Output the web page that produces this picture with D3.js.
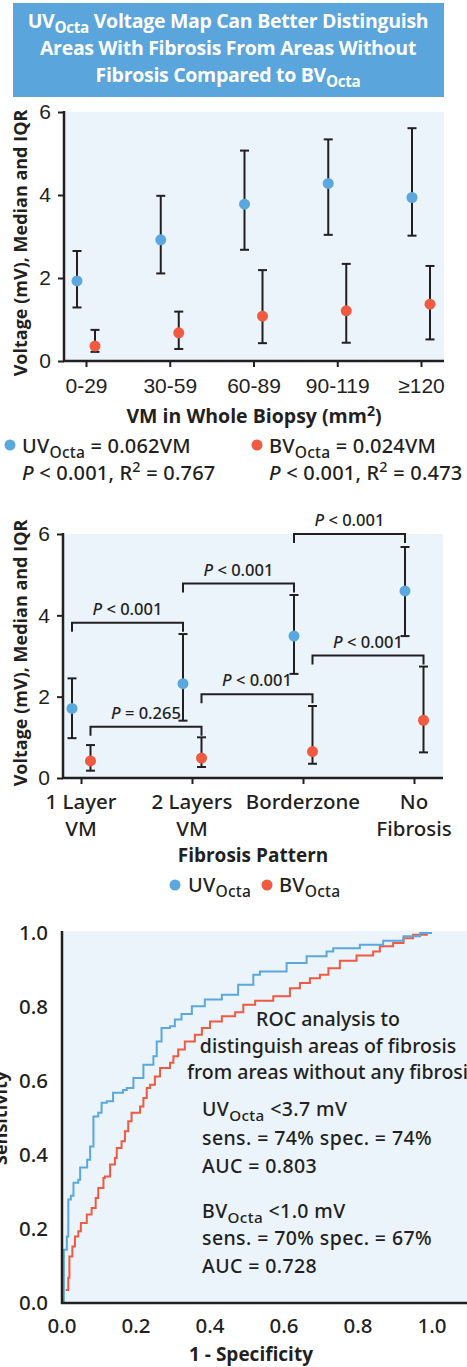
<!DOCTYPE html>
<html>
<head>
<meta charset="utf-8">
<script src="https://cdn.jsdelivr.net/npm/d3@7"></script>
<style>
  body { margin: 0; background: #fff; }
  svg { display: block; font-family: "Noto Sans", "Open Sans", sans-serif; font-weight: 500; }
  .bold { font-family: "Open Sans", sans-serif; font-weight: 700; }
</style>
</head>
<body>
<svg width="467" height="1367"></svg>
<script>
// panel A: voltage by VM area
const vmCats = ["0-29", "30-59", "60-89", "90-119", "≥120"];
const uvMed = [1.93, 2.92, 3.78, 4.28, 3.94];
const uvQ1 = [1.29, 2.11, 2.68, 3.04, 3.02];
const uvQ3 = [2.65, 3.98, 5.07, 5.34, 5.61];
const bvMed = [0.36, 0.68, 1.08, 1.21, 1.37];
const bvQ1 = [0.22, 0.29, 0.43, 0.44, 0.52];
const bvQ3 = [0.75, 1.19, 2.19, 2.34, 2.29];

// panel B: voltage by fibrosis pattern
const patCats = ["1 Layer|VM", "2 Layers|VM", "Borderzone", "No|Fibrosis"];
const uvPatMed = [1.71, 2.32, 3.49, 4.60];
const uvPatQ1 = [0.98, 1.41, 2.56, 3.49];
const uvPatQ3 = [2.45, 3.54, 4.50, 5.68];
const bvPatMed = [0.42, 0.49, 0.65, 1.42];
const bvPatQ1 = [0.18, 0.27, 0.35, 0.63];
const bvPatQ3 = [0.81, 1.00, 1.77, 2.74];
const brackets = [
  {series: "uv", from: 0, to: 1, level: 3.82, p: " < 0.001"},
  {series: "uv", from: 1, to: 2, level: 4.78, p: " < 0.001"},
  {series: "uv", from: 2, to: 3, level: 6.00, p: " < 0.001"},
  {series: "bv", from: 0, to: 1, level: 1.26, p: " = 0.265"},
  {series: "bv", from: 1, to: 2, level: 2.06, p: " < 0.001"},
  {series: "bv", from: 2, to: 3, level: 3.01, p: " < 0.001"}
];

// panel C: ROC curves (1 - specificity, sensitivity)
const rocUV = [[0.005,0],[0.005,0.144],[0.013,0.18],[0.017,0.28],[0.024,0.29],[0.031,0.325],[0.044,0.333],
  [0.049,0.366],[0.068,0.387],[0.076,0.423],[0.085,0.504],[0.098,0.514],[0.107,0.541],[0.121,0.545],
  [0.138,0.568],[0.165,0.576],[0.175,0.581],[0.193,0.608],[0.220,0.644],[0.247,0.667],[0.256,0.707],
  [0.269,0.743],[0.292,0.748],[0.305,0.766],[0.323,0.781],[0.351,0.802],[0.386,0.820],[0.432,0.833],
  [0.476,0.860],[0.517,0.887],[0.535,0.896],[0.607,0.919],[0.661,0.937],[0.715,0.950],[0.733,0.959],
  [0.805,0.968],[0.868,0.979],[0.923,0.991],[0.968,1.0],[1.0,1.0]];
const rocBV = [[0.010,0.035],[0.017,0.068],[0.020,0.126],[0.028,0.153],[0.035,0.18],[0.044,0.194],
  [0.051,0.216],[0.067,0.239],[0.080,0.257],[0.091,0.284],[0.098,0.311],[0.112,0.338],[0.116,0.342],
  [0.130,0.374],[0.143,0.392],[0.148,0.419],[0.161,0.437],[0.170,0.464],[0.179,0.491],[0.188,0.514],
  [0.211,0.531],[0.220,0.554],[0.229,0.581],[0.238,0.590],[0.251,0.612],[0.265,0.635],[0.292,0.649],
  [0.301,0.667],[0.314,0.685],[0.332,0.707],[0.359,0.725],[0.378,0.743],[0.400,0.761],[0.432,0.775],
  [0.468,0.786],[0.490,0.806],[0.522,0.817],[0.571,0.829],[0.616,0.851],[0.643,0.865],[0.670,0.878],
  [0.697,0.887],[0.720,0.905],[0.751,0.925],[0.796,0.939],[0.841,0.950],[0.859,0.964],[0.895,0.973],
  [0.923,0.986],[0.949,0.995],[0.986,1.0],[1.0,1.0]];
const rocTicks = [0, 0.2, 0.4, 0.6, 0.8, 1.0];

const BLUE = "#5aa8de", RED = "#f05a40", INK = "#231f20", BG = "#ebf3fb";

const svg = d3.select("svg");

// text with sub/superscripts: parts are [string, kind] where kind is "sub", "sup", "i" or undefined
function rich(g, x, y, parts, size, anchor) {
  const t = g.append("text")
      .attr("x", x).attr("y", y)
      .attr("font-size", size)
      .attr("text-anchor", anchor || "start")
      .attr("fill", INK);
  let shift = 0;
  parts.forEach(p => {
    const [s, kind] = Array.isArray(p) ? p : [p];
    const span = t.append("tspan").text(s);
    let want = 0;
    if (kind === "sub") { want = size * 0.27; span.attr("font-size", size * 0.78); }
    if (kind === "sup") { want = -size * 0.38; span.attr("font-size", size * 0.72); }
    if (kind === "i") span.attr("font-style", "italic");
    if (want !== shift) { span.attr("dy", want - shift); shift = want; }
  });
  return t;
}

// title box
svg.append("rect")
    .attr("x", 13).attr("y", 3).attr("width", 431).attr("height", 94)
    .attr("fill", "#5aa5dc");
const title = svg.append("g").attr("class", "bold").attr("letter-spacing", -0.3);
[
  [["UV"], ["Octa", "sub"], " Voltage Map Can Better Distinguish"],
  ["Areas With Fibrosis From Areas Without"],
  ["Fibrosis Compared to BV", ["Octa", "sub"]]
].forEach((line, i) => {
  rich(title, 228, 28 + i * 27, line, 19.5, "middle").attr("fill", "#fff");
});

function yAxisLeft(g, y, x0) {
  const ax = g.append("g")
      .attr("transform", `translate(${x0},0)`)
      .call(d3.axisLeft(y).tickValues([0, 2, 4, 6]).tickFormat(d3.format("d"))
          .tickSize(6).tickPadding(7).tickSizeOuter(0));
  ax.select(".domain").remove();
  ax.selectAll("line").attr("stroke", INK).attr("stroke-width", 2);
  ax.selectAll("text").attr("font-size", 21).attr("fill", INK)
      .attr("font-family", null);
}

function errorDots(g, x, y, med, q1, q3, dx, color) {
  const grp = g.append("g");
  med.forEach((m, i) => {
    const cx = x(i) + dx;
    grp.append("line")
        .attr("x1", cx).attr("x2", cx)
        .attr("y1", y(q1[i])).attr("y2", y(q3[i]))
        .attr("stroke", INK).attr("stroke-width", 2);
    [q1[i], q3[i]].forEach(v => {
      grp.append("line")
          .attr("x1", cx - 4.5).attr("x2", cx + 4.5)
          .attr("y1", y(v)).attr("y2", y(v))
          .attr("stroke", INK).attr("stroke-width", 2);
    });
  });
  grp.selectAll("circle")
      .data(med)
      .enter().append("circle")
      .attr("cx", (d, i) => x(i) + dx)
      .attr("cy", d => y(d))
      .attr("r", 5.5)
      .attr("fill", color);
}

function yTitle(g, cx, cy) {
  g.append("text")
      .attr("class", "bold")
      .attr("transform", `translate(${cx},${cy}) rotate(-90)`)
      .attr("text-anchor", "middle")
      .attr("font-size", 18).attr("fill", INK)
      .text("Voltage (mV), Median and IQR");
}

/* panel A */
const gA = svg.append("g");
const xA = d3.scalePoint().domain(d3.range(vmCats.length)).range([86, 421]);
const yA = d3.scaleLinear().domain([0, 6]).range([361, 112]);

gA.append("rect").attr("x", 64).attr("y", 112).attr("width", 380).attr("height", 249).attr("fill", BG);
yAxisLeft(gA, yA, 64);
const xAxA = gA.append("g")
    .attr("transform", "translate(0,361)")
    .call(d3.axisBottom(xA).tickSize(6).tickSizeOuter(0).tickFormat(i => vmCats[i]));
xAxA.select(".domain").remove();
xAxA.selectAll("line").attr("stroke", INK).attr("stroke-width", 2);
xAxA.selectAll("text").attr("font-size", 21).attr("fill", INK).attr("y", 32).attr("dy", 0)
    .attr("font-family", null);
gA.append("path").attr("d", "M64,111V361H444").attr("fill", "none").attr("stroke", INK).attr("stroke-width", 2.5);

errorDots(gA, xA, yA, uvMed, uvQ1, uvQ3, -9, BLUE);
errorDots(gA, xA, yA, bvMed, bvQ1, bvQ3, 9, RED);

yTitle(gA, 27, 243);
rich(gA, 254, 423, ["VM in Whole Biopsy (mm", ["2", "sup"], [")"]], 19.5, "middle").attr("class", "bold");

const legSize = 20, legSp = 0.2;
gA.append("circle").attr("cx", 10).attr("cy", 445).attr("r", 5.5).attr("fill", BLUE);
rich(gA, 22, 453, ["UV", ["Octa", "sub"], [" = 0.062VM"]], legSize).attr("letter-spacing", legSp);
rich(gA, 22, 480, [["P", "i"], " < 0.001, R", ["2", "sup"], [" = 0.767"]], legSize).attr("letter-spacing", legSp);
gA.append("circle").attr("cx", 257).attr("cy", 445).attr("r", 5.5).attr("fill", RED);
rich(gA, 269, 453, ["BV", ["Octa", "sub"], [" = 0.024VM"]], legSize).attr("letter-spacing", legSp);
rich(gA, 269, 480, [["P", "i"], " < 0.001, R", ["2", "sup"], [" = 0.473"]], legSize).attr("letter-spacing", legSp);

/* panel B */
const gB = svg.append("g");
const xB = d3.scalePoint().domain(d3.range(patCats.length)).range([81, 414]);
const yB = d3.scaleLinear().domain([0, 6]).range([778, 534]);

gB.append("rect").attr("x", 63).attr("y", 534).attr("width", 380).attr("height", 244).attr("fill", BG);
yAxisLeft(gB, yB, 63);
const xAxB = gB.append("g")
    .attr("transform", "translate(0,778)")
    .call(d3.axisBottom(xB).tickSize(6).tickSizeOuter(0).tickFormat(""));
xAxB.select(".domain").remove();
xAxB.selectAll("line").attr("stroke", INK).attr("stroke-width", 2);
patCats.forEach((c, i) => {
  c.split("|").forEach((s, j) => {
    gB.append("text")
        .attr("x", xB(i)).attr("y", 809 + j * 27)
        .attr("text-anchor", "middle")
        .attr("font-size", 20.5).attr("fill", INK)
        .text(s);
  });
});
gB.append("path").attr("d", "M63,533V778H443").attr("fill", "none").attr("stroke", INK).attr("stroke-width", 2.5);

errorDots(gB, xB, yB, uvPatMed, uvPatQ1, uvPatQ3, -9, BLUE);
errorDots(gB, xB, yB, bvPatMed, bvPatQ1, bvPatQ3, 9.5, RED);

brackets.forEach(b => {
  const dx = b.series === "uv" ? -9 : 9.5;
  const x1 = xB(b.from) + dx, x2 = xB(b.to) + dx, yy = yB(b.level);
  gB.append("path")
      .attr("d", `M${x1},${yy + 9}V${yy}H${x2}V${yy + 9}`)
      .attr("fill", "none").attr("stroke", INK).attr("stroke-width", 2);
  rich(gB, (x1 + x2) / 2, yy - 8, [["P", "i"], b.p], 16.5, "middle");
});

yTitle(gB, 27, 653);
gB.append("text")
    .attr("class", "bold")
    .attr("x", 253).attr("y", 862)
    .attr("text-anchor", "middle")
    .attr("font-size", 19).attr("fill", INK)
    .text("Fibrosis Pattern");
gB.append("circle").attr("cx", 175).attr("cy", 885).attr("r", 5.5).attr("fill", BLUE);
rich(gB, 188, 892, ["UV", ["Octa", "sub"]], legSize).attr("letter-spacing", legSp);
gB.append("circle").attr("cx", 267).attr("cy", 885).attr("r", 5.5).attr("fill", RED);
rich(gB, 279, 892, ["BV", ["Octa", "sub"]], legSize).attr("letter-spacing", legSp);

/* panel C */
const gC = svg.append("g");
const xC = d3.scaleLinear().domain([0, 1]).range([62, 432]);
const yC = d3.scaleLinear().domain([0, 1]).range([1303, 933]);

gC.append("rect").attr("x", 62).attr("y", 931).attr("width", 405).attr("height", 372).attr("fill", BG);

const rocLine = d3.line()
    .x(d => xC(d[0]))
    .y(d => yC(d[1]))
    .curve(d3.curveStepAfter);
gC.append("path").datum(rocBV).attr("d", rocLine)
    .attr("fill", "none").attr("stroke", RED).attr("stroke-width", 2);
gC.append("path").datum(rocUV).attr("d", rocLine)
    .attr("fill", "none").attr("stroke", BLUE).attr("stroke-width", 2);

gC.append("path").attr("d", "M62,931V1303H467").attr("fill", "none").attr("stroke", INK).attr("stroke-width", 2.5);

gC.selectAll(".ytick")
    .data(rocTicks)
    .enter().append("text")
    .attr("x", 48).attr("y", d => yC(d)).attr("dy", "0.36em")
    .attr("text-anchor", "end")
    .attr("font-size", 20.5).attr("fill", INK)
    .text(d => d.toFixed(1));
gC.selectAll(".xtick")
    .data(rocTicks)
    .enter().append("text")
    .attr("x", d => xC(d)).attr("y", 1333)
    .attr("text-anchor", "middle")
    .attr("font-size", 20.5).attr("fill", INK)
    .text(d => d.toFixed(1));
gC.append("text")
    .attr("class", "bold")
    .attr("x", 251).attr("y", 1361)
    .attr("text-anchor", "middle")
    .attr("font-size", 19).attr("fill", INK)
    .text("1 - Specificity");
gC.append("text")
    .attr("class", "bold")
    .attr("transform", `translate(7,${(yC(0) + yC(1)) / 2}) rotate(-90)`)
    .attr("text-anchor", "middle")
    .attr("font-size", 18).attr("fill", INK)
    .text("Sensitivity");

const rocSize = 19.5;
["ROC analysis to", "distinguish areas of fibrosis", "from areas without any fibrosis"].forEach((s, i) => {
  gC.append("text")
      .attr("x", i === 2 ? 187 : 328).attr("y", 1026 + i * 26.5)
      .attr("text-anchor", i === 2 ? "start" : "middle")
      .attr("font-size", rocSize).attr("fill", INK)
      .text(s);
});
const stats = [
  [["UV", ["Octa", "sub"], [" <3.7 mV"]], 1116],
  [["sens. = 74% spec. = 74%"], 1145],
  [["AUC = 0.803"], 1172.5],
  [["BV", ["Octa", "sub"], [" <1.0 mV"]], 1218],
  [["sens. = 70% spec. = 67%"], 1245],
  [["AUC = 0.728"], 1272.5]
];
stats.forEach(([parts, y]) => rich(gC, 202, y, parts, rocSize).attr("letter-spacing", 0.4));
</script>
</body>
</html>
